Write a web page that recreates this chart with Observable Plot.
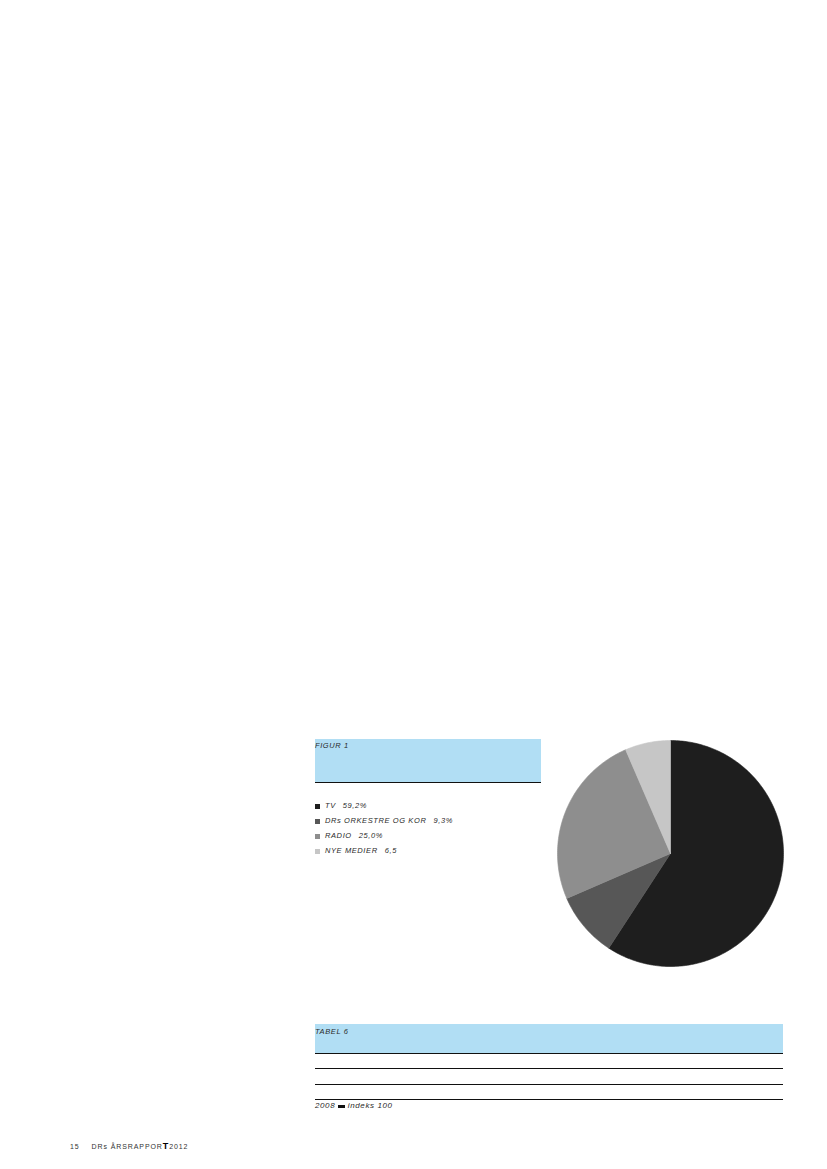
<!DOCTYPE html>
<html>
<head>
<meta charset="utf-8">
<script src="https://cdn.jsdelivr.net/npm/d3@7"></script>
<script src="https://cdn.jsdelivr.net/npm/@observablehq/plot@0.6"></script>
<style>
  html, body { margin: 0; padding: 0; background: #fff; }
  body { width: 827px; height: 1169px; position: relative; overflow: hidden;
         font-family: "Liberation Sans", "DejaVu Sans", sans-serif; }
  .abs { position: absolute; }
  .lbl { font-size: 7.5px; font-style: italic; letter-spacing: 0.6px; color: #2a2a2a; white-space: nowrap; line-height: 10px; }
  .box { background: #b1def4; border-bottom: 1.5px solid #111; box-sizing: border-box; }
  .rule { height: 0; border-top: 1.3px solid #111; }
  .sq { position: absolute; width: 5px; height: 5px; }
  .val { margin-left: 7px; }
</style>
</head>
<body>
<div class="abs box" style="left:315px;top:739px;width:226px;height:44px;"></div>
<div class="abs lbl" style="left:315px;top:741px;">FIGUR 1</div>
<div id="legend"></div>
<div id="pie" class="abs" style="left:557px;top:740px;"></div>

<div class="abs box" style="left:315px;top:1024px;width:468px;height:30px;"></div>
<div class="abs lbl" style="left:315px;top:1027px;">TABEL 6</div>
<div class="abs rule" style="left:315px;top:1068px;width:468px;"></div>
<div class="abs rule" style="left:315px;top:1083.5px;width:468px;"></div>
<div class="abs rule" style="left:315px;top:1099px;width:468px;"></div>
<div class="abs lbl" style="left:315px;top:1101px;font-size:8px;">2008 <span style="display:inline-block;width:7px;height:3px;background:#111;vertical-align:0px;"></span> indeks 100</div>

<div class="abs" style="left:70px;top:1141px;font-size:7px;letter-spacing:0.9px;color:#333;white-space:nowrap;line-height:10px;">15<span style="margin-left:12px;">DRs ÅRSRAPPOR</span><span style="font-weight:bold;font-size:9px;color:#000;">T</span>2012</div>

<script>
const categories = ["TV", "DRs ORKESTRE OG KOR", "RADIO", "NYE MEDIER"];
const shares = [59.2, 9.3, 25.0, 6.5];
const shareLabels = ["59,2%", "9,3%", "25,0%", "6,5"];
const colors = ["#1e1e1e", "#575757", "#8e8e8e", "#c6c6c6"];

// legend
const legend = document.getElementById("legend");
const rowY = [806, 821, 836, 851];
categories.forEach((c, i) => {
  const sq = document.createElement("div");
  sq.className = "sq";
  sq.style.left = "315px";
  sq.style.top = (rowY[i] - 2.5) + "px";
  sq.style.background = colors[i];
  legend.appendChild(sq);
  const t = document.createElement("div");
  t.className = "abs lbl";
  t.style.left = "325px";
  t.style.top = (rowY[i] - 5) + "px";
  t.innerHTML = c + '<span class="val">' + shareLabels[i] + "</span>";
  legend.appendChild(t);
});

// pie slices as filled polygons, clockwise from 12 o'clock
const arcs = d3.pie().sort(null).value(d => d)(shares);
const pts = [];
arcs.forEach((a, i) => {
  const name = categories[i];
  pts.push({name, x: 0, y: 0});
  const n = Math.max(2, Math.ceil((a.endAngle - a.startAngle) / (Math.PI / 180)));
  for (let k = 0; k <= n; k++) {
    const t = a.startAngle + (a.endAngle - a.startAngle) * k / n;
    pts.push({name, x: Math.sin(t), y: Math.cos(t)});
  }
  pts.push({name, x: 0, y: 0});
});

const size = 226;
const chart = Plot.plot({
  width: size, height: size,
  margin: 0,
  x: {domain: [-1, 1], axis: null},
  y: {domain: [-1, 1], axis: null},
  color: {domain: categories, range: colors},
  marks: [
    Plot.line(pts, {x: "x", y: "y", z: "name", fill: "name", stroke: "name", strokeWidth: 0.6, curve: "linear"})
  ]
});
chart.style.overflow = "visible";
document.getElementById("pie").appendChild(chart);
</script>
</body>
</html>
